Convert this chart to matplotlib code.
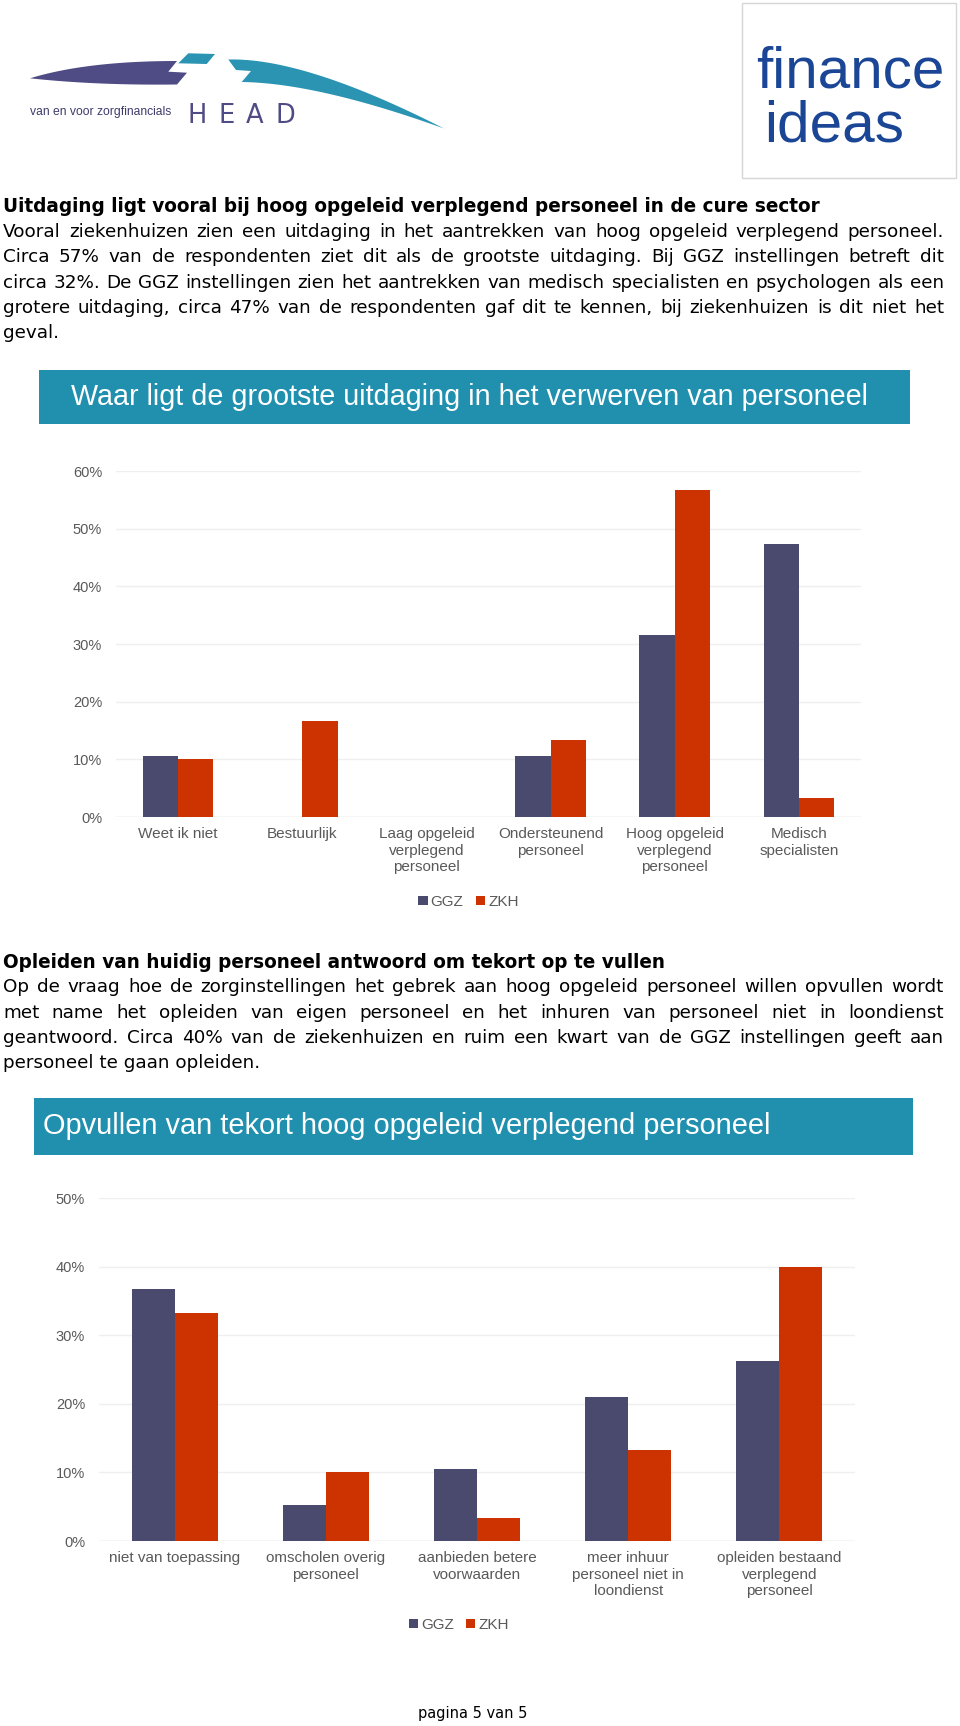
import matplotlib
matplotlib.use('Agg')
import matplotlib.pyplot as plt
import numpy as np
from matplotlib.patches import Rectangle, Polygon, Patch
from matplotlib import font_manager as fm

# ---------------- data ----------------
cat1 = ['Weet ik niet', 'Bestuurlijk', 'Laag opgeleid\nverplegend\npersoneel',
        'Ondersteunend\npersoneel', 'Hoog opgeleid\nverplegend\npersoneel',
        'Medisch\nspecialisten']
ggz1 = [10.5, 0.0, 0.0, 10.5, 31.6, 47.4]
zkh1 = [10.0, 16.7, 0.0, 13.3, 56.7, 3.3]
yticks1 = [0, 10, 20, 30, 40, 50, 60]

cat2 = ['niet van toepassing', 'omscholen overig\npersoneel',
        'aanbieden betere\nvoorwaarden', 'meer inhuur\npersoneel niet in\nloondienst',
        'opleiden bestaand\nverplegend\npersoneel']
ggz2 = [36.8, 5.3, 10.5, 21.0, 26.3]
zkh2 = [33.3, 10.0, 3.3, 13.3, 40.0]
yticks2 = [0, 10, 20, 30, 40, 50]

series_names = ['GGZ', 'ZKH']

title1 = 'Waar ligt de grootste uitdaging in het verwerven van personeel'
title2 = 'Opvullen van tekort hoog opgeleid verplegend personeel'

para1_head = 'Uitdaging ligt vooral bij hoog opgeleid verplegend personeel in de cure sector'
para1 = ['Vooral ziekenhuizen zien een uitdaging in het aantrekken van hoog opgeleid verplegend personeel.',
         'Circa 57% van de respondenten ziet dit als de grootste uitdaging. Bij GGZ instellingen betreft dit',
         'circa 32%. De GGZ instellingen zien het aantrekken van medisch specialisten en psychologen als een',
         'grotere uitdaging, circa 47% van de respondenten gaf dit te kennen, bij ziekenhuizen is dit niet het',
         'geval.']
para2_head = 'Opleiden van huidig personeel antwoord om tekort op te vullen'
para2 = ['Op de vraag hoe de zorginstellingen het gebrek aan hoog opgeleid personeel willen opvullen wordt',
         'met name het opleiden van eigen personeel en het inhuren van personeel niet in loondienst',
         'geantwoord. Circa 40% van de ziekenhuizen en ruim een kwart van de GGZ instellingen geeft aan',
         'personeel te gaan opleiden.']
footer = 'pagina 5 van 5'
logo_left_tag = 'van en voor zorgfinancials'
logo_left_name = 'HEAD'
logo_right = ['finance', 'ideas']

# ---------------- setup ----------------
W, H = 960, 1726
DPI = 100
fig = plt.figure(figsize=(W / DPI, H / DPI), dpi=DPI)
fig.patch.set_facecolor('white')
renderer = fig.canvas.get_renderer()


def fx(x):
    return x / W


def fy(y):
    return 1 - y / H


available = {f.name for f in fm.fontManager.ttflist}


def pick(*names):
    for n in names:
        if n in available:
            return n
    return 'DejaVu Sans'


BODY = pick('Verdana', 'DejaVu Sans')
ARIAL = pick('Liberation Sans', 'Arial', 'DejaVu Sans')
NARROW = pick('Liberation Sans Narrow', 'DejaVu Sans Condensed', 'Liberation Sans')
WIDE = pick('DejaVu Sans')

GGZ_C = '#494A6E'
ZKH_C = '#CC3300'
TEAL = '#2190AE'
GREY = '#595959'


def measure(s, **kw):
    t = fig.text(0, 0, s, **kw)
    w = t.get_window_extent(renderer).width
    t.remove()
    return w


def fit_size(s, target, **kw):
    w = measure(s, fontsize=10, **kw)
    return 10 * target / w


# ---------------- logos ----------------
def qbez(p0, p1, p2, n=40):
    t = np.linspace(0, 1, n)[:, None]
    p0, p1, p2 = map(np.array, (p0, p1, p2))
    return (1 - t) ** 2 * p0 + 2 * (1 - t) * t * p1 + t ** 2 * p2


def add_poly(pts, color):
    pts = np.asarray(pts, dtype=float)
    pts = np.column_stack([pts[:, 0] / W, 1 - pts[:, 1] / H])
    fig.add_artist(Polygon(pts, closed=True, transform=fig.transFigure,
                           facecolor=color, edgecolor='none'))


PURPLE = '#4F4B84'
LOGO_TEAL = '#2A94B2'
top = qbez((30, 78.3), (86.6, 61), (177, 61))
right = np.array([(168.3, 71.7), (187, 72.7)])
bot = qbez((177, 84.5), (96.6, 85.5), (30, 78.3))
add_poly(np.vstack([top, right, bot]), PURPLE)
add_poly([(188.3, 53.3), (215, 54), (206.7, 64), (178.3, 63.3)], LOGO_TEAL)
ttop = qbez((228.3, 59.5), (304.5, 57.5), (444, 128.5))
tbot = qbez((444, 128.5), (317.6, 83), (241.7, 82))
tleft = np.array([(251, 71), (236, 70)])
add_poly(np.vstack([ttop, tbot, tleft]), LOGO_TEAL)

fs_van = fit_size(logo_left_tag, 141, family=NARROW)
fig.text(fx(30), fy(111.7), logo_left_tag, family=NARROW,
         fontsize=fs_van, color='#3F3C6C', ha='left', va='center')

# HEAD letters spread over 188..295
fs_head = 18.5
letters = list(logo_left_name)
lw_ = [measure(c, family=WIDE, fontsize=fs_head) for c in letters]
gap = (295 - 188 - sum(lw_)) / (len(letters) - 1)
xx = 188
for c, wl in zip(letters, lw_):
    fig.text(fx(xx), fy(123.3), c, family=WIDE, fontsize=fs_head,
             color=PURPLE, ha='left', va='baseline')
    xx += wl + gap

fig.add_artist(Rectangle((fx(742), fy(178)), (956 - 742) / W, (178 - 3.5) / H,
                         transform=fig.transFigure, facecolor='white',
                         edgecolor='#D6D6D6', lw=1))
fs_fin = fit_size(logo_right[0], 190, family=NARROW)
fig.text(fx(756), fy(87), logo_right[0], family=NARROW, fontsize=fs_fin,
         color='#1B4696', ha='left', va='baseline')
fig.text(fx(764), fy(142), logo_right[1], family=NARROW, fontsize=fs_fin,
         color='#1B4696', ha='left', va='baseline')

# ---------------- paragraphs ----------------
X0, X1 = 3, 944
LINE = 25.3

fs_last = fit_size('personeel te gaan opleiden.', 253, family=BODY)
fs_just = min(fit_size(ln, (X1 - X0) * 0.995, family=BODY)
              for ln in para1[:-1] + para2[:-1])
fs_body = min(fs_just, fs_last * 1.04)
fs_head1 = fit_size(para1_head, 818, family=BODY, weight='bold')
fs_head2 = fit_size(para2_head, 668, family=BODY, weight='bold')
fs_bold = (fs_head1 + fs_head2) / 2


def draw_line(text, yc, justify, **kw):
    if not justify:
        fig.text(fx(X0), fy(yc), text, ha='left', va='center', **kw)
        return
    words = text.split(' ')
    widths = [measure(w, **kw) for w in words]
    g = (X1 - X0 - sum(widths)) / (len(words) - 1)
    x = X0
    for wd_text, wd in zip(words, widths):
        fig.text(fx(x), fy(yc), wd_text, ha='left', va='center', **kw)
        x += wd + g


def draw_paragraph(head, lines, y0):
    fig.text(fx(X0), fy(y0), head, ha='left', va='center', family=BODY,
             weight='bold', fontsize=fs_bold, color='black')
    for i, ln in enumerate(lines):
        draw_line(ln, y0 + LINE * (i + 1), i < len(lines) - 1,
                  family=BODY, fontsize=fs_body, color='black')


draw_paragraph(para1_head, para1, 206.7)
draw_paragraph(para2_head, para2, 962)

fs_foot = fit_size(footer, 109, family=BODY)
fig.text(fx(472.5), fy(1713), footer, ha='center', va='center', family=BODY,
         fontsize=fs_foot, color='black')


# ---------------- banners ----------------
def banner(x0, y0, x1, y1, text, tx0, tx1):
    fig.add_artist(Rectangle((fx(x0), fy(y1)), (x1 - x0) / W, (y1 - y0) / H,
                             transform=fig.transFigure, facecolor=TEAL,
                             edgecolor='none'))
    fs = fit_size(text, tx1 - tx0, family=ARIAL)
    fig.text(fx(tx0), fy((y0 + y1) / 2), text, ha='left', va='center',
             family=ARIAL, fontsize=fs, color='white')


banner(38.8, 370, 910, 424.3, title1, 70.7, 870)
banner(34, 1098, 913, 1155, title2, 43, 774)


# ---------------- charts ----------------
def bar_chart(left, right, y0px, ytop, cats, g, z, yticks, leg_xy):
    ax = fig.add_axes([fx(left), fy(y0px), (right - left) / W, (y0px - ytop) / H])
    n = len(cats)
    x = np.arange(n)
    bw = 0.285
    ax.bar(x - bw / 2, g, width=bw, color=GGZ_C, label=series_names[0], zorder=3, lw=0)
    ax.bar(x + bw / 2, z, width=bw, color=ZKH_C, label=series_names[1], zorder=3, lw=0)
    ax.set_xlim(-0.5, n - 0.5)
    ax.set_ylim(yticks[0], yticks[-1])
    ax.set_yticks(yticks)
    ax.set_yticklabels([f'{v}%' for v in yticks], family=ARIAL, fontsize=10.5, color=GREY)
    ax.set_xticks(x)
    ax.set_xticklabels(cats, family=ARIAL, fontsize=11, color=GREY, linespacing=1.2)
    ax.tick_params(axis='y', length=0, pad=10)
    ax.tick_params(axis='x', length=0, pad=7.5)
    for s in ax.spines.values():
        s.set_visible(False)
    ax.yaxis.grid(True, color='#EFEFEF', lw=1, zorder=0)
    ax.set_axisbelow(True)
    ax.axhline(yticks[0], color='#E4E4E4', lw=1, zorder=1)
    handles = [Patch(facecolor=GGZ_C, edgecolor='none', label=series_names[0]),
               Patch(facecolor=ZKH_C, edgecolor='none', label=series_names[1])]
    fig.legend(handles=handles, loc='center', ncol=2, frameon=False,
               bbox_to_anchor=(fx(leg_xy[0]), fy(leg_xy[1])),
               bbox_transform=fig.transFigure,
               prop={'family': ARIAL, 'size': 11},
               handlelength=0.6, handleheight=0.6, handletextpad=0.2,
               columnspacing=0.8, labelcolor=GREY)
    return ax


bar_chart(116, 861, 817, 471, cat1, ggz1, zkh1, yticks1, (468.5, 902))
bar_chart(99, 855, 1541, 1198, cat2, ggz2, zkh2, yticks2, (459, 1625))

fig.savefig('out.png', dpi=DPI, facecolor='white')
